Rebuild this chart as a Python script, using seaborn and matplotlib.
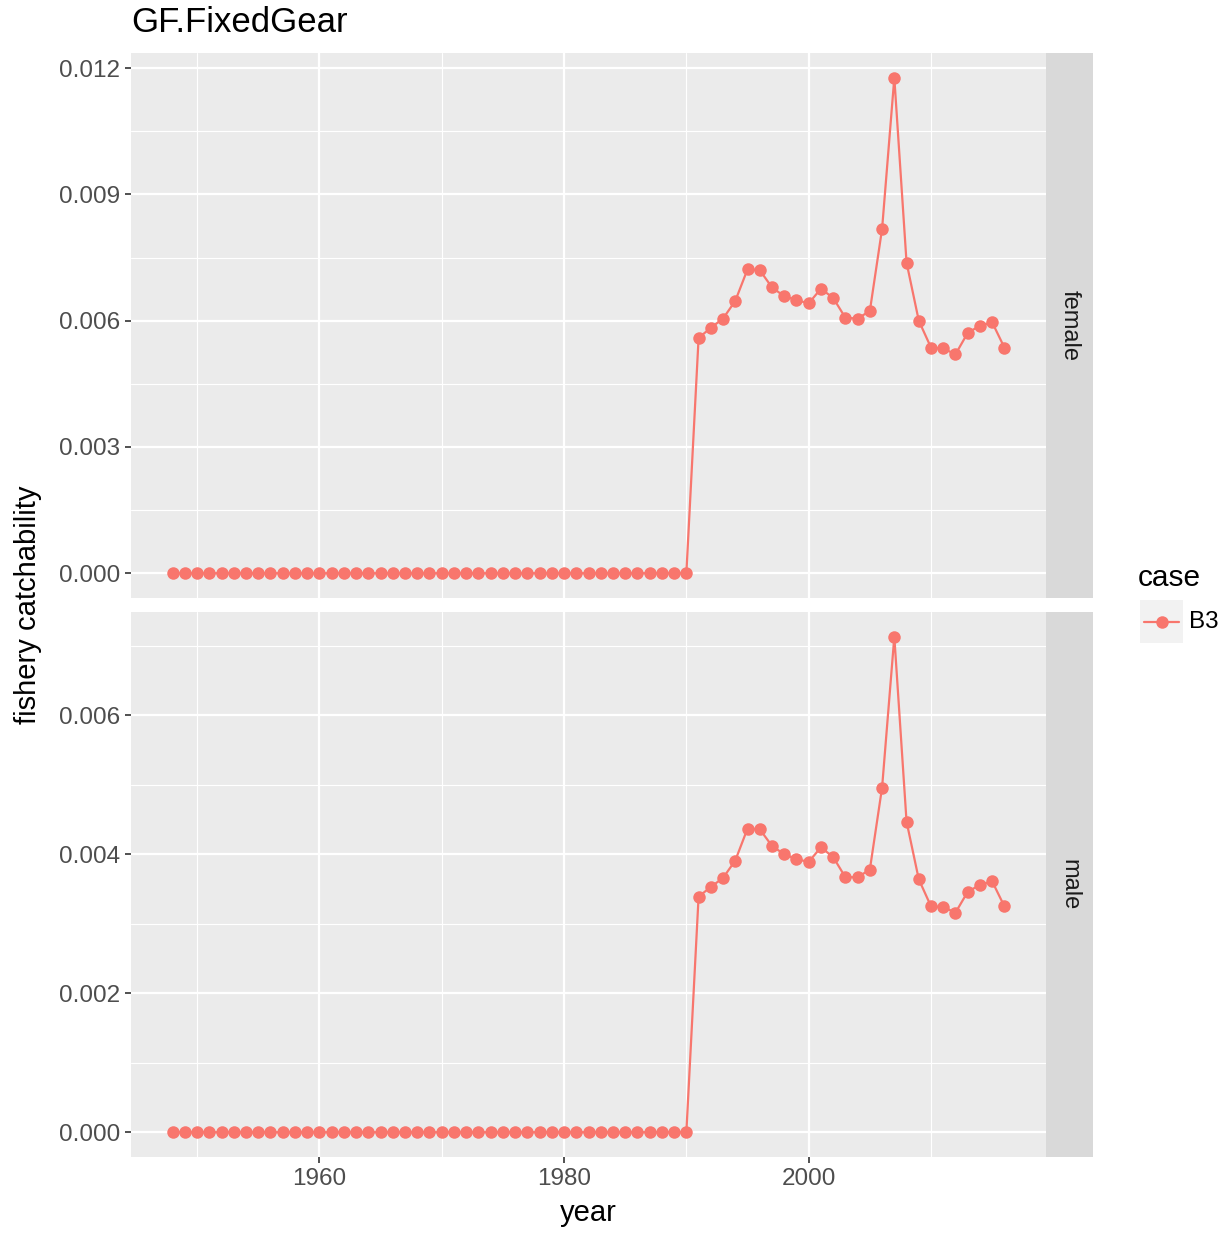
import numpy as np
import pandas as pd
import seaborn as sns
import matplotlib.pyplot as plt
from matplotlib.ticker import MultipleLocator
from matplotlib.lines import Line2D

# data (zeros before 1991)
years = list(range(1948, 2017))
female_tail = [0.00559, 0.00583, 0.00605, 0.00647, 0.00722, 0.00720, 0.00679, 0.00658,
               0.00649, 0.00641, 0.00676, 0.00654, 0.00607, 0.00605, 0.00623, 0.00818,
               0.01177, 0.00738, 0.00600, 0.00536, 0.00534, 0.00520, 0.00571, 0.00588,
               0.00596, 0.00536]
male_tail = [0.00339, 0.00353, 0.00366, 0.00391, 0.00437, 0.00436, 0.00412, 0.00400,
             0.00393, 0.00389, 0.00410, 0.00396, 0.00367, 0.00367, 0.00378, 0.00496,
             0.00713, 0.00447, 0.00364, 0.00325, 0.00324, 0.00316, 0.00346, 0.00356,
             0.00361, 0.00325]
n_zero = len(years) - len(female_tail)
female = [0.0] * n_zero + female_tail
male = [0.0] * n_zero + male_tail
sexes = ['female', 'male']
case = 'B3'
color = '#F8766D'

df = pd.concat([
    pd.DataFrame({'year': years, 'q': female, 'sex': 'female', 'case': case}),
    pd.DataFrame({'year': years, 'q': male, 'sex': 'male', 'case': case}),
])

sns.set_theme(style='white')
plt.rcParams['font.family'] = ['Liberation Sans', 'DejaVu Sans']

W, H = 1230, 1234
fig = plt.figure(figsize=(W / 100, H / 100), dpi=100)

panels = [(53, 598), (612, 1157)]
left, right, strip_w = 131, 1046, 47
majors = [0.003, 0.002]
axes = []
for (top, bot), sex, step in zip(panels, sexes, majors):
    ax = fig.add_axes([left / W, 1 - bot / H, (right - left) / W, (bot - top) / H])
    sub = df[df['sex'] == sex]
    sns.lineplot(data=sub, x='year', y='q', hue='case', palette=[color], ax=ax,
                 marker='o', markersize=9, markeredgewidth=0, linewidth=1.6, legend=False)
    ax.set_facecolor('#EBEBEB')
    ymax = sub['q'].max()
    pad = 0.05 * ymax
    ax.set_ylim(-pad, ymax + pad)
    ax.set_xlim(1948 - 3.4, 2016 + 3.4)
    ax.yaxis.set_major_locator(MultipleLocator(step))
    ax.yaxis.set_minor_locator(MultipleLocator(step / 2))
    ax.xaxis.set_major_locator(MultipleLocator(20))
    ax.xaxis.set_minor_locator(MultipleLocator(10))
    ax.grid(which='major', color='white', linewidth=1.6)
    ax.grid(which='minor', color='white', linewidth=0.8)
    ax.set_axisbelow(True)
    for s in ax.spines.values():
        s.set_visible(False)
    ax.yaxis.set_major_formatter(plt.FuncFormatter(lambda v, p: f'{v:.3f}'))
    ax.tick_params(axis='both', which='major', length=4, width=1.2, color='#333333',
                   labelsize=17.5, labelcolor='#4D4D4D', left=True, bottom=True, pad=4)
    ax.tick_params(which='minor', length=0)
    ax.set_xlabel('')
    ax.set_ylabel('')
    # facet strip
    sax = fig.add_axes([right / W, 1 - bot / H, strip_w / W, (bot - top) / H])
    sax.set_facecolor('#D9D9D9')
    sax.set_xticks([])
    sax.set_yticks([])
    for s in sax.spines.values():
        s.set_visible(False)
    sax.text(0.5, 0.5, sex, rotation=-90, ha='center', va='center', fontsize=17,
             color='#1A1A1A', transform=sax.transAxes)
    axes.append(ax)

axes[0].tick_params(labelbottom=False, bottom=False)

fig.text(131 / W, 1 - 22 / H, 'GF.FixedGear', fontsize=25, ha='left', va='center', color='black')
fig.text(588 / W, 1 - 1213 / H, 'year', fontsize=21, ha='center', va='center', color='black')
fig.text(28 / W, 1 - 605 / H, 'fishery catchability', fontsize=21, rotation=90,
         ha='center', va='center', color='black')

# legend
fig.text(1138 / W, 1 - 578 / H, 'case', fontsize=21.5, ha='left', va='center', color='black')
kax = fig.add_axes([1140 / W, 1 - 643 / H, 43 / W, 43 / H])
kax.set_facecolor('#F2F2F2')
kax.set_xlim(0, 1)
kax.set_ylim(0, 1)
kax.set_xticks([])
kax.set_yticks([])
for s in kax.spines.values():
    s.set_visible(False)
kax.add_line(Line2D([0.1, 0.9], [0.5, 0.5], color=color, linewidth=1.6))
kax.plot([0.5], [0.5], 'o', color=color, markersize=9, markeredgewidth=0)
fig.text(1189 / W, 1 - 622 / H, case, fontsize=17.5, ha='left', va='center', color='black')

fig.savefig('out.png', dpi=100)
